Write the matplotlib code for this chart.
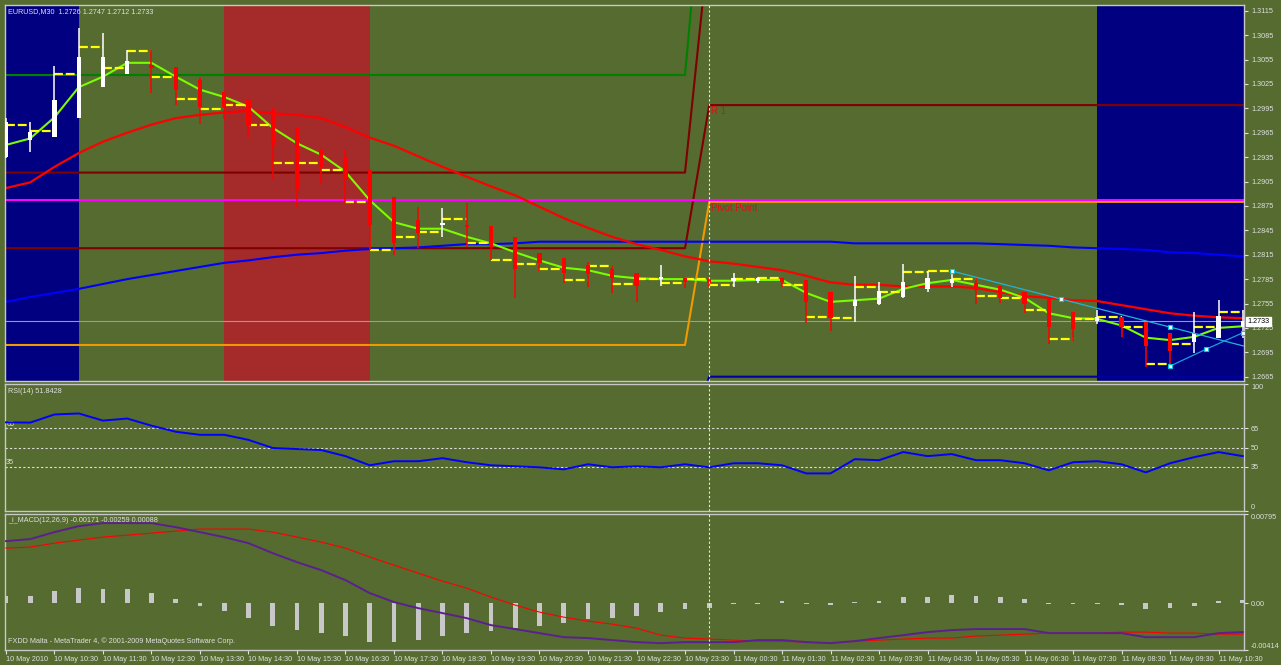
import numpy as np
import matplotlib.pyplot as plt

# EURUSD M30, one entry per bar starting 10 May 2010 09:30
opens = [1.2935, 1.2956, 1.2960, 1.2983, 1.3021, 1.3037, 1.3048, 1.3046, 1.3030, 1.3015,
         1.3005, 1.2993, 1.2971, 1.2944, 1.2934, 1.2919, 1.2886, 1.2858, 1.2852, 1.2852,
         1.2850, 1.2837, 1.2817, 1.2811, 1.2802, 1.2797, 1.2792, 1.2785, 1.2786, 1.2785,
         1.2783, 1.2783, 1.2786, 1.2784, 1.2769, 1.2752, 1.2755, 1.2763, 1.2773, 1.2780,
         1.2780, 1.2776, 1.2769, 1.2762, 1.2744, 1.2733, 1.2738, 1.2732, 1.2719, 1.2708,
         1.2713, 1.2726]
highs = [1.2983, 1.2978, 1.3047, 1.3094, 1.3088, 1.3067, 1.3067, 1.3046, 1.3032, 1.3015,
         1.3006, 1.2995, 1.2971, 1.2945, 1.2944, 1.2919, 1.2886, 1.2874, 1.2872, 1.2879,
         1.2850, 1.2837, 1.2817, 1.2811, 1.2806, 1.2802, 1.2792, 1.2802, 1.2786, 1.2786,
         1.2792, 1.2788, 1.2788, 1.2784, 1.2769, 1.2789, 1.2781, 1.2804, 1.2795, 1.2796,
         1.2786, 1.2776, 1.2769, 1.2762, 1.2744, 1.2747, 1.2738, 1.2732, 1.2719, 1.2744,
         1.2759, 1.2747]
lows = [1.2934, 1.2941, 1.2960, 1.2983, 1.3021, 1.3037, 1.3014, 1.2999, 1.2976, 1.2982,
        1.2960, 1.2908, 1.2874, 1.2902, 1.2879, 1.2821, 1.2815, 1.2823, 1.2837, 1.2824,
        1.2808, 1.2762, 1.2795, 1.2780, 1.2775, 1.2768, 1.2757, 1.2776, 1.2774, 1.2775,
        1.2775, 1.2780, 1.2775, 1.2731, 1.2721, 1.2732, 1.2753, 1.2762, 1.2769, 1.2775,
        1.2754, 1.2756, 1.2743, 1.2705, 1.2709, 1.2730, 1.2714, 1.2677, 1.2679, 1.2694,
        1.2713, 1.2712]
closes = [1.2978, 1.2966, 1.3005, 1.3058, 1.3058, 1.3053, 1.3045, 1.3018, 1.2997, 1.2997,
          1.2973, 1.2950, 1.2895, 1.2923, 1.2907, 1.2852, 1.2829, 1.2842, 1.2854, 1.2849,
          1.2824, 1.2797, 1.2805, 1.2792, 1.2791, 1.2786, 1.2776, 1.2788, 1.2781, 1.2780,
          1.2786, 1.2786, 1.2781, 1.2757, 1.2737, 1.2759, 1.2770, 1.2781, 1.2786, 1.2785,
          1.2772, 1.2762, 1.2754, 1.2726, 1.2724, 1.2738, 1.2726, 1.2703, 1.2697, 1.2719,
          1.2740, 1.2733]

# yellow step indicator (one dash per bar)
dash_level = [1.2974, 1.2967, 1.3037, 1.3070, 1.3045, 1.3065, 1.3033, 1.3006, 1.2994, 1.2999,
              1.2974, 1.2928, 1.2928, 1.2919, 1.2880, 1.2821, 1.2837, 1.2843, 1.2859, 1.2830,
              1.2808, 1.2803, 1.2798, 1.2784, 1.2801, 1.2779, 1.2785, 1.2780, 1.2785, 1.2778,
              1.2785, 1.2786, 1.2778, 1.2738, 1.2737, 1.2775, 1.2769, 1.2794, 1.2795, 1.2785,
              1.2764, 1.2762, 1.2747, 1.2711, 1.2736, 1.2738, 1.2726, 1.2680, 1.2705, 1.2726,
              1.2745]

ma_fast = [1.2950, 1.2958, 1.2984, 1.3021, 1.3034, 1.3051, 1.3051, 1.3034, 1.3018, 1.3009,
           1.2997, 1.2971, 1.2952, 1.2938, 1.2917, 1.2882, 1.2855, 1.2847, 1.2847, 1.2837,
           1.2829, 1.2818, 1.2808, 1.2799, 1.2796, 1.2789, 1.2786, 1.2785, 1.2785, 1.2783,
           1.2783, 1.2784, 1.2784, 1.2768, 1.2757, 1.2759, 1.2761, 1.2773, 1.2780, 1.2784,
           1.2778, 1.2772, 1.2762, 1.2743, 1.2737, 1.2736, 1.2728, 1.2713, 1.2710, 1.2714,
           1.2725, 1.2727]
ma_mid = [1.2897, 1.2904, 1.2923, 1.2940, 1.2954, 1.2965, 1.2975, 1.2983, 1.2987, 1.2990,
          1.2992, 1.2989, 1.2987, 1.2983, 1.2972, 1.2959, 1.2949, 1.2936, 1.2923, 1.2911,
          1.2899, 1.2888, 1.2874, 1.2860, 1.2848, 1.2837, 1.2828, 1.2821, 1.2813, 1.2807,
          1.2804, 1.2800, 1.2796, 1.2789, 1.2781, 1.2778, 1.2778, 1.2776, 1.2776, 1.2776,
          1.2774, 1.2769, 1.2764, 1.2762, 1.2759, 1.2758, 1.2753, 1.2748, 1.2743, 1.2740,
          1.2738, 1.2737]
ma_slow = [1.2757, 1.2763, 1.2768, 1.2773, 1.2779, 1.2785, 1.2790, 1.2795, 1.2800, 1.2805,
           1.2808, 1.2812, 1.2815, 1.2817, 1.2820, 1.2822, 1.2823, 1.2824, 1.2826, 1.2828,
           1.2828, 1.2829, 1.2831, 1.2831, 1.2831, 1.2831, 1.2831, 1.2831, 1.2831, 1.2831,
           1.2831, 1.2831, 1.2831, 1.2831, 1.2831, 1.2829, 1.2829, 1.2829, 1.2829, 1.2829,
           1.2829, 1.2828, 1.2827, 1.2826, 1.2824, 1.2823, 1.2822, 1.2821, 1.2818, 1.2817,
           1.2815, 1.2813]

# daily pivot levels: [10 May, 11 May]
day_start_bar = 29
pivot_day = [1.2704, 1.2880]
r1_day = [1.2823, 1.2999]
r2_day = [1.2916, 1.3203]
r3_day = [1.3036, 1.3365]
s1_day = [1.2585, 1.2665]
hline_magenta = 1.2882
bid = 1.2733

# session boxes (bar index from, to)
blue_sessions = [(-1, 3), (45, 53)]
red_sessions = [(9, 15)]

# trend lines (bar, price)
trend_hi_bar = [39, 43.5, 48]
trend_hi_val = [1.2795, 1.2760, 1.2726]
trend_lo_bar = [48, 49.5, 51]
trend_lo_val = [1.2678, 1.2699, 1.2719]

rsi = [69.8, 69.6, 76.0, 76.8, 71.2, 72.8, 67.2, 62.4, 60.0, 60.0,
       56.0, 49.6, 48.8, 48.0, 43.2, 36.0, 39.2, 39.2, 41.6, 38.4,
       36.0, 35.2, 34.4, 32.8, 36.8, 34.4, 35.2, 34.4, 36.8, 34.4,
       37.6, 37.6, 36.0, 29.6, 29.6, 40.8, 40.0, 46.4, 43.2, 44.8,
       40.0, 40.0, 37.6, 32.0, 38.4, 39.2, 36.8, 30.4, 37.6, 42.4,
       46.4, 43.2]

macd = [0.00554, 0.00572, 0.00634, 0.00687, 0.00714, 0.00714, 0.00714, 0.00678, 0.00634, 0.00589,
        0.00536, 0.00447, 0.00367, 0.00296, 0.00207, 0.00092, 0.00012, -0.00042, -0.00086, -0.00131,
        -0.00193, -0.00228, -0.00264, -0.00300, -0.00308, -0.00326, -0.00344, -0.00353, -0.00344, -0.00344,
        -0.00344, -0.00326, -0.00326, -0.00344, -0.00353, -0.00335, -0.00308, -0.00282, -0.00255, -0.00237,
        -0.00228, -0.00228, -0.00228, -0.00264, -0.00264, -0.00264, -0.00264, -0.00300, -0.00300, -0.00300,
        -0.00264, -0.00255]
signal = [0.00492, 0.00501, 0.00536, 0.00563, 0.00590, 0.00607, 0.00625, 0.00643, 0.00661, 0.00661,
          0.00661, 0.00634, 0.00590, 0.00545, 0.00492, 0.00412, 0.00340, 0.00269, 0.00198, 0.00136,
          0.00056, -0.00015, -0.00077, -0.00122, -0.00157, -0.00184, -0.00220, -0.00282, -0.00308, -0.00317,
          -0.00326, -0.00335, -0.00335, -0.00344, -0.00353, -0.00335, -0.00326, -0.00317, -0.00308, -0.00308,
          -0.00290, -0.00282, -0.00273, -0.00264, -0.00264, -0.00264, -0.00255, -0.00255, -0.00264, -0.00264,
          -0.00273, -0.00273]
hist = [0.00062, 0.00062, 0.00107, 0.00133, 0.00124, 0.00124, 0.00089, 0.00036, -0.00027, -0.00071,
        -0.00133, -0.00204, -0.00240, -0.00267, -0.00293, -0.00347, -0.00347, -0.00329, -0.00293, -0.00267,
        -0.00249, -0.00222, -0.00204, -0.00178, -0.00142, -0.00133, -0.00116, -0.00080, -0.00053, -0.00044,
        -0.00009, -0.00003, 0.00018, -0.00009, -0.00018, 0.00009, 0.00018, 0.00053, 0.00053, 0.00071,
        0.00062, 0.00053, 0.00036, -0.00004, -0.00009, -0.00009, -0.00018, -0.00053, -0.00044, -0.00027,
        0.00018, 0.00027]

time_labels = ['10 May 2010', '10 May 10:30', '10 May 11:30', '10 May 12:30', '10 May 13:30',
               '10 May 14:30', '10 May 15:30', '10 May 16:30', '10 May 17:30', '10 May 18:30',
               '10 May 19:30', '10 May 20:30', '10 May 21:30', '10 May 22:30', '10 May 23:30',
               '11 May 00:30', '11 May 01:30', '11 May 02:30', '11 May 03:30', '11 May 04:30',
               '11 May 05:30', '11 May 06:30', '11 May 07:30', '11 May 08:30', '11 May 09:30',
               '11 May 10:30']
price_ticks = [1.2665, 1.2695, 1.2725, 1.2755, 1.2785, 1.2815, 1.2845, 1.2875,
               1.2905, 1.2935, 1.2965, 1.2995, 1.3025, 1.3055, 1.3085, 1.3115]

OLIVE = '#556B2F'
FG = '#E0E0E0'
FS = 5.2
plt.rcParams['font.family'] = ['Liberation Sans', 'DejaVu Sans']

W, H = 1281, 665
fig = plt.figure(figsize=(W / 100, H / 100), dpi=100, facecolor=OLIVE)


def px_axes(x0, y0, x1, y1):
    a = fig.add_axes([x0 / W, 1 - y1 / H, (x1 - x0) / W, (y1 - y0) / H])
    a.set_facecolor(OLIVE)
    for s in a.spines.values():
        s.set_color('#C8C8C8')
        s.set_linewidth(1.0)
    a.yaxis.tick_right()
    a.tick_params(axis='y', colors=FG, labelsize=FS, length=3, width=0.8, pad=2)
    a.set_xlim(-0.04, 51.05)
    return a


ax = px_axes(5, 5, 1244, 381)
ax_rsi = px_axes(5, 384, 1244, 511)
ax_macd = px_axes(5, 514, 1244, 650)

x = np.arange(len(closes))
o, h, l, c = map(np.array, (opens, highs, lows, closes))

# ---- main price window
for a, b in blue_sessions:
    ax.axvspan(a, b, color='#000080', lw=0, zorder=0)
for a, b in red_sessions:
    ax.axvspan(a, b, color='#A52A2A', lw=0, zorder=0)

day = (x >= day_start_bar).astype(int)
for lv, col in [(r3_day, '#008000'), (r2_day, '#800000'), (r1_day, '#800000'),
                (pivot_day, '#F09A00'), (s1_day, '#0000A0')]:
    ax.plot(x, np.array(lv)[day], color=col, lw=1.5, zorder=1)
ax.axhline(hline_magenta, color='#FF00FF', lw=1.5, zorder=1)
ax.axhline(bid, color='#9AA090', lw=0.8, zorder=1)

ax.text(day_start_bar + 0.08, r1_day[1] - 0.0001, 'R 1', color='#DD1010', fontsize=7,
        va='top', ha='left', zorder=3)
ax.text(day_start_bar + 0.08, pivot_day[1] - 0.0001, 'Pivot Point', color='#DD1010', fontsize=7,
        va='top', ha='left', zorder=3)

ax.plot(x, ma_slow, color='#0000FF', lw=1.5, zorder=2)
ax.plot(x, ma_mid, color='#FF0000', lw=1.6, zorder=2)
ax.plot(x, ma_fast, color='#7CFC00', lw=1.5, zorder=3)

xd = x[:len(dash_level)]
ax.hlines(dash_level, xd, xd + 1, colors='#FFFF00', lw=1.6, linestyles=(0, (4, 1.3)), zorder=4)

up = c >= o
col = np.where(up, '#FFFFFF', '#FF0000')
ax.vlines(x, l, h, colors=col, lw=1.1, zorder=5)
ax.bar(x, np.maximum(np.abs(c - o), 0.00004), bottom=np.minimum(o, c), width=0.17,
       color=col, lw=0, zorder=6)

# trend lines with anchor points
hb, hv = np.array(trend_hi_bar), np.array(trend_hi_val)
slope = (hv[-1] - hv[0]) / (hb[-1] - hb[0])
ax.plot([hb[0], 51.1], [hv[0], hv[-1] + slope * (51.1 - hb[-1])], color='#22B5D5', lw=0.9, zorder=7)
ax.plot(trend_lo_bar, trend_lo_val, color='#1E9BE0', lw=0.9, zorder=7)
ax.plot(hb, hv, ls='none', marker='s', ms=2.6, mfc='white', mec='#00C8E0', mew=0.8, zorder=8)
ax.plot(trend_lo_bar, trend_lo_val, ls='none', marker='s', ms=2.6, mfc='white', mec='#00C8E0',
        mew=0.8, zorder=8)

ax.set_ylim(1.26597, 1.31221)
ax.set_yticks(price_ticks)
ax.set_yticklabels([f'{t:.4f}' for t in price_ticks])
ax.set_xticks([])
ax.annotate(f'{bid:.4f}', xy=(1, bid), xycoords=('axes fraction', 'data'), xytext=(2.5, 0),
            textcoords='offset points', va='center', ha='left', fontsize=FS, color='black',
            bbox=dict(boxstyle='square,pad=0.15', fc='white', ec='white'), annotation_clip=False,
            zorder=10)
ax.text(0.0024, 0.992, 'EURUSD,M30  1.2726 1.2747 1.2712 1.2733', transform=ax.transAxes,
        va='top', ha='left', fontsize=FS, color=FG, zorder=10)

# ---- RSI window
ax_rsi.set_ylim(0, 100)
for lvl in (65, 50, 35):
    ax_rsi.axhline(lvl, color='#E0E0E0', lw=0.8, ls=(0, (2, 2)), zorder=1)
for lvl in (65, 35):
    ax_rsi.text(0.001, lvl + 0.5, str(lvl), transform=ax_rsi.get_yaxis_transform(),
                va='bottom', ha='left', fontsize=FS, color=FG)
ax_rsi.plot(x, rsi, color='#0000FF', lw=1.4, zorder=3)
ax_rsi.set_yticks([0, 35, 50, 65, 100])
ax_rsi.set_yticklabels(['0', '35', '50', '65', '100'])
ax_rsi.get_yticklabels()[0].set_va('bottom')
ax_rsi.get_yticklabels()[-1].set_va('top')
ax_rsi.set_xticks([])
ax_rsi.text(0.0024, 0.965, 'RSI(14) 51.8428', transform=ax_rsi.transAxes,
            va='top', ha='left', fontsize=FS, color=FG)

# ---- MACD window
macd_lo, macd_hi = -0.00414, 0.00795
ax_macd.bar(x, hist, width=0.2, color='#C8C8C8', lw=0, zorder=2)
ax_macd.plot(x, signal, color='#FF0000', lw=0.8, zorder=3)
ax_macd.plot(x, macd, color='#5A2090', lw=1.4, zorder=3)
ax_macd.set_ylim(macd_lo, macd_hi)
ax_macd.set_yticks([macd_lo, 0, macd_hi])
ax_macd.set_yticklabels(['-0.00414', '0.00', '0.00795'])
ax_macd.get_yticklabels()[0].set_va('bottom')
ax_macd.get_yticklabels()[-1].set_va('top')
ax_macd.set_xticks(x[::2])
ax_macd.set_xticklabels(time_labels, ha='left')
ax_macd.tick_params(axis='x', colors=FG, labelsize=FS, length=3, width=0.8, pad=1.5)
ax_macd.text(0.0024, 0.975, '_i_MACD(12,26,9) -0.00171 -0.00259 0.00088', transform=ax_macd.transAxes,
             va='top', ha='left', fontsize=FS, color=FG)
ax_macd.text(0.0024, 0.035, 'FXDD Malta - MetaTrader 4, \u00a9 2001-2009 MetaQuotes Software Corp.',
             transform=ax_macd.transAxes, va='bottom', ha='left', fontsize=FS, color=FG)

# period separator
for a in (ax, ax_rsi, ax_macd):
    a.axvline(day_start_bar, color='#E8E8E8', lw=0.8, ls=(0, (2, 2)), zorder=9)

fig.savefig('out.png', dpi=100, facecolor=OLIVE)
